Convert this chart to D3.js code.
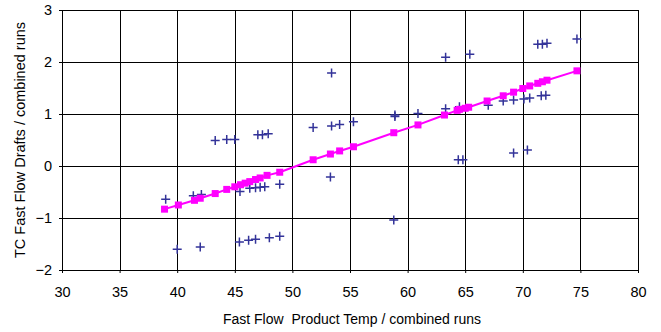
<!DOCTYPE html>
<html>
<head>
<meta charset="utf-8">
<script src="https://cdn.jsdelivr.net/npm/d3@7"></script>
<style>
  body { margin: 0; background: #fff; }
  svg { display: block; font-family: "Liberation Sans", Arial, sans-serif; }
</style>
</head>
<body>
<div id="wrapper"></div>
<script>
// measured points (+)
const pointX = [39.0, 40.0, 41.4, 42.1, 42.0, 43.3, 44.3, 45.0, 45.45, 46.3, 46.8, 47.2, 47.6, 48.9,
  45.4, 46.2, 46.8, 48.0, 48.9, 47.0, 47.4, 47.9, 51.8, 53.4, 53.4, 54.1, 55.3, 53.3, 58.8,
  58.9, 58.9, 60.9, 63.3, 65.4, 71.3, 71.7, 72.1, 74.7, 63.3, 64.5, 67.0, 68.3, 69.2, 70.1,
  70.6, 71.6, 72.0, 64.4, 64.8, 69.2, 70.4]
const pointY = [-0.64, -1.60, -0.57, -0.55, -1.56, 0.49, 0.51, 0.51, -0.49, -0.43, -0.42, -0.41, -0.40, -0.35,
  -1.46, -1.43, -1.41, -1.38, -1.35, 0.60, 0.60, 0.62, 0.74, 1.79, 0.77, 0.80, 0.85, -0.21, -1.04,
  0.95, 0.98, 1.01, 2.09, 2.15, 2.34, 2.34, 2.36, 2.44, 1.10, 1.14, 1.17, 1.25, 1.27, 1.29,
  1.31, 1.35, 1.36, 0.12, 0.12, 0.25, 0.31]

// fitted values (pink squares)
const fitX = [38.9, 40.1, 41.5, 42.0, 43.3, 44.3, 45.0, 45.5, 45.9, 46.3, 46.8, 47.2, 47.8, 48.9,
  51.8, 53.3, 54.1, 55.3, 58.8, 60.9, 63.2, 64.3, 64.5, 65.0, 65.3, 66.9, 68.3, 69.2, 70.0,
  70.6, 71.3, 71.7, 72.1, 74.7]
const fitY = [-0.83, -0.75, -0.66, -0.62, -0.53, -0.45, -0.40, -0.36, -0.33, -0.30, -0.26, -0.23, -0.18, -0.12,
  0.12, 0.23, 0.29, 0.37, 0.64, 0.79, 0.98, 1.07, 1.09, 1.11, 1.13, 1.25, 1.35, 1.42, 1.49,
  1.54, 1.59, 1.62, 1.65, 1.83]

const xTicks = [30, 35, 40, 45, 50, 55, 60, 65, 70, 75, 80]
const yTicks = [-2, -1, 0, 1, 2, 3]

const xTitle = "Fast Flow\u00a0 Product Temp / combined runs"
const yTitle = "TC Fast Flow Drafts / combined runs"

const dimensions = {
  width: 661,
  height: 332,
  margin: { top: 10, right: 23, bottom: 62, left: 62 }
}
dimensions.boundedWidth = dimensions.width - dimensions.margin.left - dimensions.margin.right
dimensions.boundedHeight = dimensions.height - dimensions.margin.top - dimensions.margin.bottom

const svg = d3.select("#wrapper").append("svg")
    .attr("width", dimensions.width)
    .attr("height", dimensions.height)

const bounds = svg.append("g")
    .attr("transform", `translate(${dimensions.margin.left},${dimensions.margin.top})`)

const xScale = d3.scaleLinear().domain([30, 80]).range([0, dimensions.boundedWidth])
const yScale = d3.scaleLinear().domain([-2, 3]).range([dimensions.boundedHeight, 0])

// grid
bounds.append("g").selectAll("line").data(xTicks).join("line")
    .attr("x1", d => Math.round(xScale(d)) + 0.5).attr("x2", d => Math.round(xScale(d)) + 0.5)
    .attr("y1", 0).attr("y2", dimensions.boundedHeight)
    .attr("stroke", "#000").attr("stroke-width", 1)
bounds.append("g").selectAll("line").data(yTicks).join("line")
    .attr("y1", d => Math.round(yScale(d)) + 0.5).attr("y2", d => Math.round(yScale(d)) + 0.5)
    .attr("x1", 0).attr("x2", dimensions.boundedWidth)
    .attr("stroke", "#000").attr("stroke-width", 1)

// axes
const xAxis = bounds.append("g")
    .attr("transform", `translate(0,${dimensions.boundedHeight})`)
    .call(d3.axisBottom(xScale).tickValues(xTicks).tickFormat(d3.format("d")).tickSize(3).tickPadding(14))
const yAxis = bounds.append("g")
    .call(d3.axisLeft(yScale).tickValues(yTicks).tickFormat(d3.format("d")).tickSize(3).tickPadding(7))
;[xAxis, yAxis].forEach(a => {
  a.select(".domain").remove()
  a.selectAll(".tick line").attr("stroke", "#000")
  a.selectAll(".tick text").attr("fill", "#000")
      .style("font-size", "14.5px").style("font-family", "'Liberation Sans', Arial, sans-serif")
})

// fitted line
const line = d3.line().x((d, i) => xScale(fitX[i])).y((d, i) => yScale(fitY[i]))
bounds.append("path")
    .datum(fitY)
    .attr("d", line)
    .attr("fill", "none")
    .attr("stroke", "#ff00ff")
    .attr("stroke-width", 2)

// measured points
const plusSize = 4.5
bounds.append("g").selectAll("path").data(pointX).join("path")
    .attr("d", (d, i) => {
      const x = xScale(d), y = yScale(pointY[i])
      return `M${x - plusSize},${y}H${x + plusSize}M${x},${y - plusSize}V${y + plusSize}`
    })
    .attr("stroke", "#333399")
    .attr("stroke-width", 1.5)
    .attr("fill", "none")

// fitted squares
const sq = 7
bounds.append("g").selectAll("rect").data(fitX).join("rect")
    .attr("x", d => xScale(d) - sq / 2)
    .attr("y", (d, i) => yScale(fitY[i]) - sq / 2)
    .attr("width", sq)
    .attr("height", sq)
    .attr("fill", "#ff00ff")

// titles
svg.append("text")
    .attr("x", dimensions.margin.left + dimensions.boundedWidth / 2 + 2)
    .attr("y", 324)
    .attr("text-anchor", "middle")
    .style("font-size", "14px")
    .text(xTitle)

svg.append("text")
    .attr("transform", `translate(25,${dimensions.margin.top + dimensions.boundedHeight / 2}) rotate(-90)`)
    .attr("text-anchor", "middle")
    .style("font-size", "14.5px")
    .text(yTitle)
</script>
</body>
</html>
